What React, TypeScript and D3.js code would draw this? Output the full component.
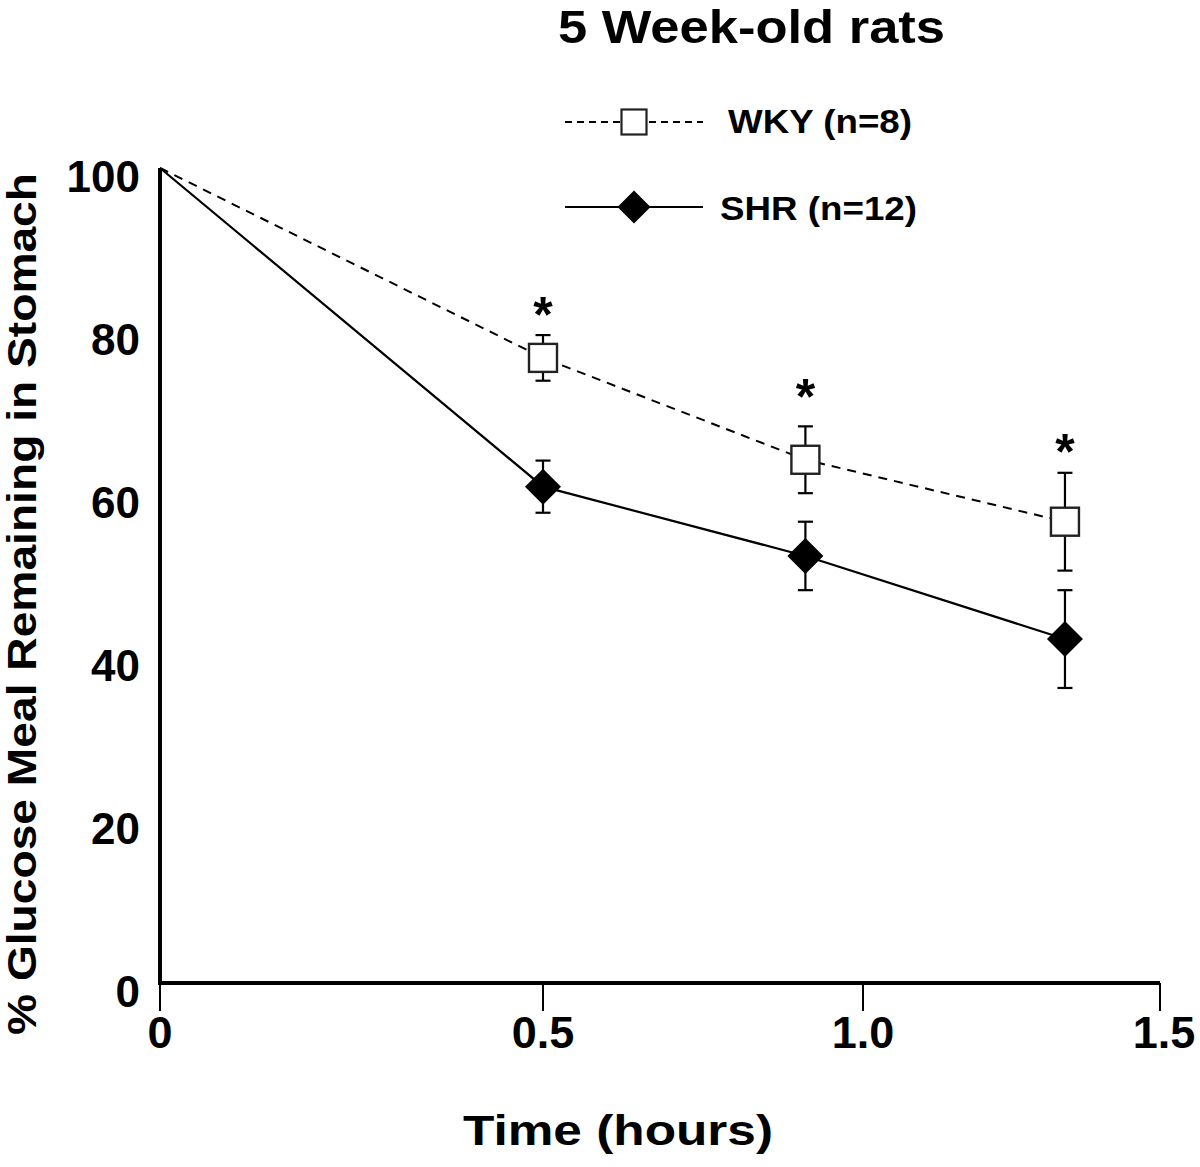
import React from "react";
import * as d3 from "d3";

const times = [0, 0.5, 0.91, 1.34];
const wkyMean = [100, 76.7, 64.2, 56.6];
const wkyErr = [0, 2.8, 4.1, 6.0];
const shrMean = [100, 60.9, 52.4, 42.2];
const shrErr = [0, 3.2, 4.2, 6.0];
const starLevels = [83.2, 73.1, 66.4];
const xTicks = [0, 0.5, 1.0, 1.5];
const xTickLabels = ["0", "0.5", "1.0", "1.5"];
const yTicks = [0, 20, 40, 60, 80, 100];

const FONT = "'Liberation Sans', Arial, Helvetica, sans-serif";

export default function App() {
  const x = d3.scaleLinear().domain([0, 0.5, 1.0, 1.5]).range([160, 543, 863, 1160]);
  const y = d3.scaleLinear().domain([0, 100]).range([983, 168]);
  const line = d3
    .line<number>()
    .x((_, i) => x(times[i]))
    .y((d) => y(d));

  const cap = 7.5;
  const sq = 28;
  const dia = 18;

  const errBars = (mean: number[], err: number[], key: string) =>
    mean.map((m, i) =>
      i === 0 ? null : (
        <g key={key + i} stroke="#000" strokeWidth={2.2}>
          <line x1={x(times[i])} x2={x(times[i])} y1={y(m + err[i])} y2={y(m - err[i])} />
          <line x1={x(times[i]) - cap} x2={x(times[i]) + cap} y1={y(m + err[i])} y2={y(m + err[i])} />
          <line x1={x(times[i]) - cap} x2={x(times[i]) + cap} y1={y(m - err[i])} y2={y(m - err[i])} />
        </g>
      )
    );

  return (
    <svg
      width={1200}
      height={1167}
      style={{ position: "absolute", left: 0, top: 0, background: "#fff" }}
      fontFamily={FONT}
      fontWeight="bold"
    >
      <rect width={1200} height={1167} fill="#fff" />
      {/* title */}
      <text x={558} y={43} fontSize={47} textLength={387} lengthAdjust="spacingAndGlyphs">
        5 Week-old rats
      </text>

      {/* legend */}
      <line x1={565} x2={703} y1={122} y2={122} stroke="#000" strokeWidth={2} strokeDasharray="7,5" />
      <rect x={634 - 12.5} y={122 - 12.5} width={25} height={25} fill="#fff" stroke="#222" strokeWidth={2.2} />
      <text x={728} y={133} fontSize={34} textLength={184} lengthAdjust="spacingAndGlyphs">
        WKY (n=8)
      </text>
      <line x1={565} x2={703} y1={207} y2={207} stroke="#000" strokeWidth={2} />
      <path d={`M634,${207 - 16.5}L${634 + 16.5},207L634,${207 + 16.5}L${634 - 16.5},207Z`} fill="#000" />
      <text x={720} y={220} fontSize={34} textLength={197} lengthAdjust="spacingAndGlyphs">
        SHR (n=12)
      </text>

      {/* axes */}
      <line x1={160} x2={160} y1={y(100)} y2={y(0) + 2} stroke="#000" strokeWidth={4} />
      <line x1={158} x2={1160} y1={y(0)} y2={y(0)} stroke="#000" strokeWidth={4} />
      {xTicks.map((t, i) => (
        <g key={"xt" + i}>
          <line x1={x(t)} x2={x(t)} y1={y(0)} y2={1011} stroke="#000" strokeWidth={2} />
          <text x={x(t) + (i === 3 ? 4 : 0)} y={1048} fontSize={45} textAnchor="middle">
            {xTickLabels[i]}
          </text>
        </g>
      ))}
      {yTicks.map((t) => (
        <text key={"yt" + t} x={140} y={y(t) + 24} fontSize={44} textAnchor="end">
          {t}
        </text>
      ))}
      <text x={463} y={1145} fontSize={42} textLength={310} lengthAdjust="spacingAndGlyphs">
        Time (hours)
      </text>
      <text
        transform={`translate(36,1035) rotate(-90)`}
        x={0}
        y={0}
        fontSize={41}
        textLength={862}
        lengthAdjust="spacingAndGlyphs"
      >
        % Glucose Meal Remaining in Stomach
      </text>

      {/* series lines */}
      <path d={line(wkyMean) || ""} fill="none" stroke="#000" strokeWidth={2} strokeDasharray="9,7" />
      <path d={line(shrMean) || ""} fill="none" stroke="#000" strokeWidth={2.2} />

      {/* error bars */}
      {errBars(wkyMean, wkyErr, "we")}
      {errBars(shrMean, shrErr, "se")}

      {/* markers */}
      {wkyMean.map((m, i) =>
        i === 0 ? null : (
          <rect
            key={"wm" + i}
            x={x(times[i]) - sq / 2}
            y={y(m) - sq / 2}
            width={sq}
            height={sq}
            fill="#fff"
            stroke="#222"
            strokeWidth={2.4}
          />
        )
      )}
      {shrMean.map((m, i) =>
        i === 0 ? null : (
          <path
            key={"sm" + i}
            d={`M${x(times[i])},${y(m) - dia}L${x(times[i]) + dia},${y(m)}L${x(times[i])},${y(m) + dia}L${x(times[i]) - dia},${y(m)}Z`}
            fill="#000"
          />
        )
      )}

      {/* significance stars */}
      {starLevels.map((s, i) => (
        <text key={"st" + i} x={x(times[i + 1])} y={y(s) + 27} fontSize={50} textAnchor="middle">
          *
        </text>
      ))}
    </svg>
  );
}
